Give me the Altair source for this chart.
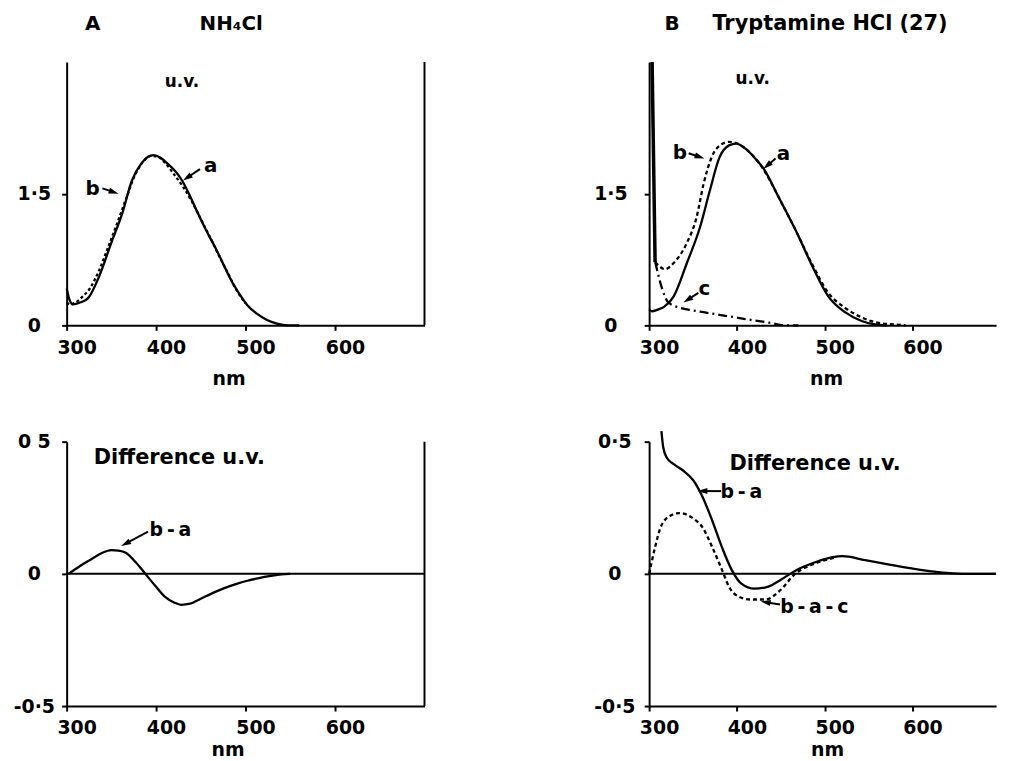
import math
import altair as alt
import pandas as pd

FONT = "DejaVu Sans"

# ---------------- shared ticks ----------------
X_TICKS = [300, 400, 500, 600]
TOP_Y_TICKS = [0, 1.5]
TOP_Y_LABELS = ["0", "1·5"]
BOT_Y_TICKS = [-0.5, 0, 0.5]
A_BOT_Y_LABELS = ["-0·5", "0", "0 5"]
B_BOT_Y_LABELS = ["-0·5", "0", "0·5"]

# ---------------- Panel A : NH4Cl, u.v. ----------------
A_UV_A_NM = [300, 303, 307, 315, 324, 336, 351, 362, 373, 384, 391, 397, 405, 413, 421,
             429, 438, 447, 456, 466, 475, 484, 493, 502, 513, 524, 535, 547, 560]
A_UV_A_ABS = [0.42, 0.30, 0.24, 0.26, 0.31, 0.55, 0.97, 1.27, 1.65, 1.85, 1.92, 1.94, 1.91, 1.84, 1.76,
              1.65, 1.47, 1.27, 1.08, 0.89, 0.70, 0.51, 0.36, 0.23, 0.13, 0.06, 0.02, 0.0, 0.0]
A_UV_B_NM = [300, 304, 310, 318, 326, 336, 346, 356, 366, 376, 386, 394, 402, 410, 420,
             430, 440, 450, 460, 470, 480, 490, 500]
A_UV_B_ABS = [0.26, 0.24, 0.26, 0.33, 0.42, 0.62, 0.88, 1.15, 1.43, 1.70, 1.87, 1.93, 1.92, 1.85, 1.72,
              1.58, 1.41, 1.21, 1.01, 0.80, 0.60, 0.40, 0.25]

# ---------------- Panel A : difference ----------------
A_DIFF_NM = [302, 315, 328, 340, 350, 358, 366, 377, 388, 399, 410, 420, 428, 438, 450,
             463, 477, 490, 502, 515, 528, 540, 550]
A_DIFF_VAL = [0.0, 0.03, 0.056, 0.08, 0.09, 0.088, 0.08, 0.045, 0.0, -0.045, -0.087, -0.108, -0.117, -0.113, -0.094,
              -0.073, -0.053, -0.038, -0.026, -0.016, -0.008, -0.002, 0.0]

# ---------------- Panel B : Tryptamine HCl, u.v. ----------------
B_UV_A_NM = [300, 303, 310, 317, 328, 343, 358, 369, 380, 391, 399, 410, 420, 430, 448,
             467, 486, 504, 523, 542, 557, 570]
B_UV_A_ABS = [0.18, 0.16, 0.18, 0.21, 0.33, 0.71, 1.12, 1.53, 1.91, 2.05, 2.07, 2.01, 1.91, 1.79, 1.45,
              1.08, 0.67, 0.33, 0.15, 0.05, 0.01, 0.0]
B_UV_B_NM = [307, 312, 318, 328, 343, 354, 362, 371, 382, 391, 398, 410, 430, 448, 467,
             486, 504, 523, 542, 560, 580, 592]
B_UV_B_ABS = [0.72, 0.67, 0.64, 0.71, 0.94, 1.23, 1.61, 1.91, 2.06, 2.09, 2.08, 2.01, 1.78, 1.45, 1.08,
              0.69, 0.37, 0.20, 0.09, 0.03, 0.01, 0.0]
B_SPIKE_NM = [303.4, 306.8]
B_SPIKE_ABS = [3.0, 0.72]
B_UV_C_NM = [307, 311, 315, 322, 335, 350, 362, 380, 399, 420, 437, 456, 470]
B_UV_C_ABS = [0.72, 0.55, 0.41, 0.26, 0.20, 0.17, 0.15, 0.12, 0.09, 0.055, 0.03, 0.0, 0.0]

# ---------------- Panel B : difference ----------------
B_BA_NM = [314, 316, 320, 328, 339, 350, 361, 372, 383, 394, 405, 420, 435, 450, 468,
           490, 509, 520, 546, 575, 609, 638, 660, 695]
B_BA_VAL = [0.54, 0.48, 0.44, 0.415, 0.39, 0.355, 0.29, 0.20, 0.10, 0.015, -0.037, -0.056, -0.049, -0.022, 0.015,
            0.045, 0.063, 0.067, 0.052, 0.034, 0.015, 0.004, 0.0, 0.0]
B_BAC_NM = [300, 306, 313, 324, 335, 350, 361, 372, 383, 391, 402, 416, 432, 450, 465, 487, 505, 512]
B_BAC_VAL = [0.0, 0.09, 0.175, 0.22, 0.23, 0.21, 0.175, 0.10, 0.015, -0.049, -0.086, -0.097, -0.097, -0.06,
             -0.004, 0.037, 0.056, 0.062]

# ---------------- annotations (text, nm, value, font size) ----------------
A_TOP_TEXT = [("A", 329, 3.36, 20), ("NH₄Cl", 484, 3.36, 20), ("u.v.", 429, 2.72, 17),
              ("b", 329, 1.49, 20), ("a", 461, 1.75, 20)]
A_TOP_ARROWS = [(340, 1.56, 358, 1.50), (449, 1.78, 430, 1.65)]
B_TOP_TEXT = [("B", 326, 3.36, 20), ("Tryptamine  HCl  (27)", 506, 3.36, 21), ("u.v.", 418, 2.75, 17),
              ("b", 335, 1.90, 20), ("a", 453, 1.88, 20), ("c", 363, 0.35, 20)]
B_TOP_ARROWS = [(345, 1.96, 363, 1.90), (444, 1.90, 430, 1.78), (356, 0.37, 339, 0.26)]
A_BOT_TEXT = [("Difference  u.v.", 426, 0.414, 21), ("b\u2009-\u2009a", 416, 0.143, 19)]
A_BOT_ARROWS = [(391, 0.16, 361, 0.105)]
B_BOT_TEXT = [("Difference  u.v.", 489, 0.392, 21), ("b\u2009-\u2009a", 405, 0.287, 19),
              ("b\u2009-\u2009a\u2009-\u2009c", 488, -0.149, 19)]
B_BOT_ARROWS = [(382, 0.313, 355, 0.313), (449, -0.116, 427, -0.104)]

HEAD = "M0,-1L0.6,1L-0.6,1Z"


def label_expr(values, labels):
    expr = "''"
    for v, s in zip(values, labels):
        expr = f"datum.value == {v} ? '{s}' : ({expr})"
    return expr


def make_panel(xdom, ydom, w, h, yticks, ylabels, ypad, title_x, title_y,
               lines, texts, arrows, zero_line=False, right_border=False):
    xs = alt.Scale(domain=xdom, nice=False, zero=False)
    ys = alt.Scale(domain=ydom, nice=False, zero=False)
    xaxis = alt.Axis(values=X_TICKS, title="nm", labelOffset=10, labelPadding=8, labelFlush=False,
                     labelOverlap=False, titleX=title_x, titleY=title_y, titleBaseline="alphabetic",
                     titleAnchor="start", titleAlign="center", grid=False)
    yaxis = alt.Axis(values=yticks, labelExpr=label_expr(yticks, ylabels), labelAlign="center",
                     labelPadding=ypad, labelFlush=False, labelOverlap=False, title=None, grid=False)
    X = lambda f: alt.X(f, type="quantitative", scale=xs, axis=xaxis)
    Y = lambda f: alt.Y(f, type="quantitative", scale=ys, axis=yaxis)

    layers = []
    if zero_line:
        zdf = pd.DataFrame({"x": [xdom[0]], "x2": [xdom[1]], "y": [0.0]})
        layers.append(alt.Chart(zdf).mark_rule(color="black", strokeWidth=2).encode(
            x=X("x"), x2="x2", y=Y("y")))
    if right_border:
        rdf = pd.DataFrame({"x": [xdom[1]], "y": [ydom[0]], "y2": [ydom[1]]})
        layers.append(alt.Chart(rdf).mark_rule(color="black", strokeWidth=2).encode(
            x=X("x"), y=Y("y"), y2="y2"))
    for nm, val, dash, sw in lines:
        df = pd.DataFrame({"nm": nm, "v": val, "i": list(range(len(nm)))})
        kw = dict(color="black", strokeWidth=sw, clip=False, interpolate="monotone")
        if dash:
            kw["strokeDash"] = dash
        layers.append(alt.Chart(df).mark_line(**kw).encode(
            x=X("nm"), y=Y("v"), order="i:Q"))

    kx = w / (xdom[1] - xdom[0])
    ky = h / (ydom[1] - ydom[0])
    segs, heads = [], []
    for x1, y1, x2, y2 in arrows:
        dx = (x2 - x1) * kx
        dy = -(y2 - y1) * ky
        L = math.hypot(dx, dy)
        ux, uy = dx / L, dy / L
        ang = math.degrees(math.atan2(ux, -uy)) % 360
        hx = x2 - ux * 5 / kx
        hy = y2 + uy * 5 / ky
        segs.append({"x": x1, "y": y1, "x2": hx, "y2": hy})
        heads.append({"x": hx, "y": hy, "ang": ang})
    if segs:
        layers.append(alt.Chart(pd.DataFrame(segs)).mark_rule(color="black", strokeWidth=2).encode(
            x=X("x"), y=Y("y"), x2="x2", y2="y2"))
        layers.append(alt.Chart(pd.DataFrame(heads)).mark_point(
            shape=HEAD, filled=True, color="black", opacity=1, size=100).encode(
            x=X("x"), y=Y("y"), angle=alt.Angle("ang:Q", scale=None)))

    tdf = pd.DataFrame([{"t": t, "x": x, "y": y, "fs": fs} for t, x, y, fs in texts])
    layers.append(alt.Chart(tdf).mark_text(
        font=FONT, fontWeight="bold", color="black", align="center", baseline="alphabetic").encode(
        x=X("x"), y=Y("y"), text="t:N", size=alt.Size("fs:Q", scale=None)))

    return alt.layer(*layers).properties(width=w, height=h)


A_top = make_panel([300, 700], [0, 3], 360, 265, TOP_Y_TICKS, TOP_Y_LABELS, 28, 163, 60,
                   [(A_UV_A_NM, A_UV_A_ABS, None, 2.3),
                    (A_UV_B_NM, A_UV_B_ABS, [3, 2.5], 2.3)],
                   A_TOP_TEXT, A_TOP_ARROWS, right_border=True)
B_top = make_panel([300, 695], [0, 3], 349, 265, TOP_Y_TICKS, TOP_Y_LABELS, 34, 178, 60,
                   [(B_UV_A_NM, B_UV_A_ABS, None, 2.3),
                    (B_UV_B_NM, B_UV_B_ABS, [4, 3], 2.3),
                    (B_UV_C_NM, B_UV_C_ABS, [9, 4, 2, 4], 2.3),
                    (B_SPIKE_NM, B_SPIKE_ABS, None, 3.5)],
                   B_TOP_TEXT, B_TOP_ARROWS)
A_bot = make_panel([300, 700], [-0.5, 0.5], 360, 266, BOT_Y_TICKS, A_BOT_Y_LABELS, 28, 162, 50,
                   [(A_DIFF_NM, A_DIFF_VAL, None, 2.3)],
                   A_BOT_TEXT, A_BOT_ARROWS, zero_line=True, right_border=True)
B_bot = make_panel([300, 695], [-0.5, 0.5], 349, 266, BOT_Y_TICKS, B_BOT_Y_LABELS, 30, 179, 50,
                   [(B_BA_NM, B_BA_VAL, None, 2.3),
                    (B_BAC_NM, B_BAC_VAL, [4, 3], 2.3)],
                   B_BOT_TEXT, B_BOT_ARROWS, zero_line=True)

chart = alt.concat(A_top, B_top, A_bot, B_bot, columns=2,
                   spacing={"row": 117, "column": 226}, bounds="flush", align="each").properties(
    padding={"left": 5, "top": 3, "right": 0, "bottom": 0}
).configure_view(stroke=None).configure_axis(
    domainColor="black", domainWidth=2, tickColor="black", tickWidth=2, tickSize=5,
    labelFont=FONT, labelFontSize=19, labelFontWeight="bold", labelColor="black",
    titleFont=FONT, titleFontSize=19, titleFontWeight="bold", titleColor="black"
)

chart.save("out.html", embed_options={"renderer": "svg", "actions": False})
